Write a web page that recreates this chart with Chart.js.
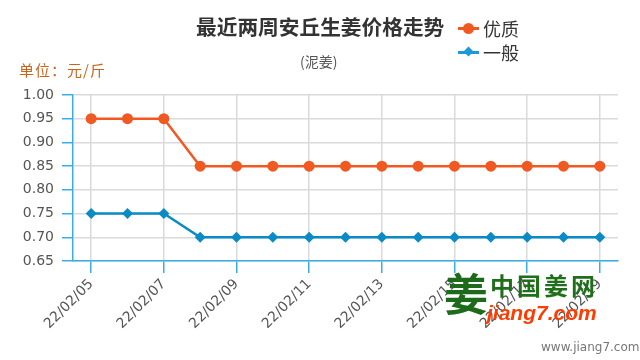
<!DOCTYPE html>
<html><head><meta charset="utf-8">
<script src="https://cdn.jsdelivr.net/npm/chart.js@4"></script>
<style>
html,body{margin:0;padding:0;background:#fff;}
#wrap{position:relative;width:640px;height:360px;font-family:"Noto Sans CJK SC","Noto Sans",sans-serif;overflow:hidden;}
canvas{position:absolute;left:0;top:0;}
.t{position:absolute;white-space:nowrap;line-height:1;}
.lg{position:absolute;}
</style></head><body>
<div id="wrap">
<canvas id="c" width="640" height="360"></canvas>
<div class="t" style="left:196px;top:16px;font-size:20.7px;font-weight:bold;color:#333;">最近两周安丘生姜价格走势</div>
<div class="t" style="left:300px;top:54px;font-size:14px;color:#555;">(泥姜)</div>
<div class="t" style="left:19px;top:62px;font-size:15px;letter-spacing:1px;color:#c8641e;">单位：元/斤</div>

<div class="lg" style="left:458px;top:27px;width:21px;height:3px;background:#f05a22;"></div>
<div class="lg" style="left:463px;top:23px;width:11px;height:11px;border-radius:50%;background:#f05a22;"></div>
<div class="t" style="left:483px;top:19px;font-size:18px;color:#333;">优质</div>

<div class="lg" style="left:458px;top:51px;width:21px;height:3px;background:#1a9ad6;"></div>
<div class="lg" style="left:465px;top:48px;width:7px;height:7px;transform:rotate(45deg);background:#1a9ad6;"></div>
<div class="t" style="left:483px;top:43px;font-size:18px;color:#333;">一般</div>

<div class="t" style="left:444px;top:270px;font-size:44px;font-weight:bold;color:#1b6b1b;">姜</div>
<div class="t" style="left:490px;top:273px;font-size:24px;font-weight:bold;letter-spacing:3px;color:#1f6e1a;">中国姜网</div>
<div class="t" style="left:487px;top:302px;font-size:21px;font-weight:bold;font-style:italic;color:#ff3c00;font-family:'Liberation Sans',Arial,sans-serif;">jiang7.com</div>
<div class="t" style="left:541px;top:341px;font-size:12px;color:#777;font-family:'DejaVu Sans',sans-serif;">www.jiang7.com</div>
</div>
<script>
const labels = ['22/02/05','22/02/06','22/02/07','22/02/08','22/02/09','22/02/10','22/02/11','22/02/12','22/02/13','22/02/14','22/02/15','22/02/16','22/02/17','22/02/18','22/02/19'];
const youzhi = [0.95,0.95,0.95,0.85,0.85,0.85,0.85,0.85,0.85,0.85,0.85,0.85,0.85,0.85,0.85];
const yiban = [0.75,0.75,0.75,0.70,0.70,0.70,0.70,0.70,0.70,0.70,0.70,0.70,0.70,0.70,0.70];
const yMin = 0.65, yMax = 1.00, yStep = 0.05;

const axisBlue = '#3aaee0';
const gridGray = '#dadada';

new Chart(document.getElementById('c'), {
  type: 'line',
  data: {
    labels: labels,
    datasets: [
      {label:'优质', data:youzhi, borderColor:'#f05a22', backgroundColor:'#f05a22', pointStyle:'circle', pointRadius:5.5, pointBorderWidth:0, borderWidth:2.5, tension:0},
      {label:'一般', data:yiban, borderColor:'#0b8bc5', backgroundColor:'#0b8bc5', pointStyle:'rectRot', pointRadius:5.5, pointBorderWidth:0, borderWidth:2.5, tension:0}
    ]
  },
  options: {
    responsive:false, animation:false, devicePixelRatio:1,
    layout:{padding:{top:95,right:22,left:0,bottom:0}},
    plugins:{legend:{display:false}, tooltip:{enabled:false}},
    scales:{
      x:{
        type:'category', offset:true,
        grid:{offset:false, lineWidth:1.5,
          color:(ctx)=> ctx.index%2===0 ? gridGray : 'rgba(0,0,0,0)',
          tickColor:(ctx)=> ctx.index%2===0 ? axisBlue : 'rgba(0,0,0,0)',
          tickLength:12},
        border:{color:axisBlue, width:1.5},
        ticks:{autoSkip:false, maxRotation:45, minRotation:45, padding:3,
          callback:(v,i)=> i%2===0 ? labels[i] : '',
          color:'#555', font:{size:14, family:'DejaVu Sans'}},
        afterFit:(s)=>{ s.height = 99; }
      },
      y:{
        min:yMin, max:yMax,
        grid:{color:gridGray, lineWidth:1.5, tickColor:axisBlue, tickLength:11},
        border:{color:axisBlue, width:1.5},
        ticks:{stepSize:yStep, padding:8, color:'#555', font:{size:14, family:'DejaVu Sans'},
          callback:(v)=> Number(v).toFixed(2)},
        afterFit:(s)=>{ s.width = 73; }
      }
    }
  }
});
</script>
</body></html>
